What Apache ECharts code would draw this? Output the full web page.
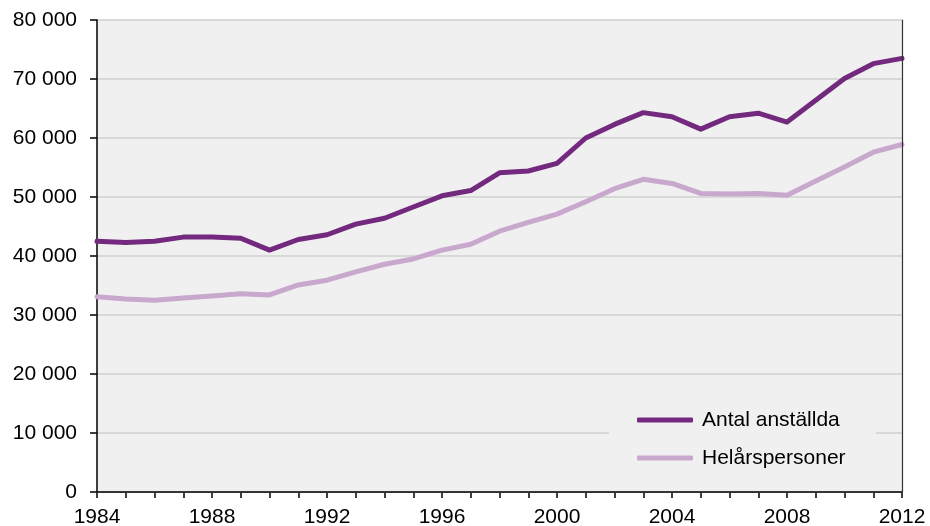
<!DOCTYPE html>
<html>
<head>
<meta charset="utf-8">
<script src="https://cdn.jsdelivr.net/npm/echarts@6/dist/echarts.min.js"></script>
<style>
  html, body { margin: 0; padding: 0; background: #fff; }
  #chart { width: 930px; height: 526px; }
</style>
</head>
<body>
<div id="chart"></div>
<script>
const years = [];
for (let y = 1984; y <= 2012; y++) years.push(String(y));

// Antal anställda
const antalAnstallda = [
  42500, 42300, 42500, 43200, 43200, 43000, 41000, 42800, 43600, 45400,
  46400, 48300, 50200, 51100, 54100, 54400, 55700, 60000, 62300, 64300,
  63600, 61500, 63600, 64200, 62700, 66400, 70100, 72600, 73500
];

// Helårspersoner
const helarspersoner = [
  33100, 32700, 32500, 32900, 33200, 33600, 33400, 35100, 35900, 37300,
  38600, 39500, 41000, 42000, 44200, 45700, 47100, 49200, 51400, 53000,
  52300, 50600, 50500, 50600, 50300, 52700, 55100, 57600, 58900
];

const fmt = v => String(v).replace(/\B(?=(\d{3})+(?!\d))/g, ' ');

const chart = echarts.init(document.getElementById('chart'));

const option = {
  backgroundColor: '#ffffff',
  animation: false,
  textStyle: { fontFamily: 'Liberation Sans, Arial, sans-serif' },
  grid: {
    left: 97, right: 28, top: 20, bottom: 34,
    outerBoundsMode: 'none',
    containLabel: false,
    show: true,
    backgroundColor: '#f0f0f0',
    borderWidth: 0
  },
  legend: {
    orient: 'vertical',
    left: 609,
    top: 399,
    padding: [10, 30, 10, 28],
    backgroundColor: '#f0f0f0',
    itemWidth: 56,
    itemHeight: 5,
    itemGap: 16,
    icon: 'roundRect',
    textStyle: { fontSize: 21, color: '#000', lineHeight: 22, padding: [0, 0, 0, 4] },
    data: ['Antal anställda', 'Helårspersoner']
  },
  xAxis: [
    {
      type: 'category',
      data: years,
      boundaryGap: false,
      axisLine: { lineStyle: { color: '#000', width: 1.5 } },
      axisTick: { show: true, interval: 0, length: 6, lineStyle: { color: '#000', width: 1.5 } },
      axisLabel: { interval: 3, fontSize: 21, color: '#000', margin: 15 },
      splitLine: { show: false }
    },
    {
      type: 'category',
      data: years,
      boundaryGap: false,
      position: 'top',
      z: 10,
      axisLine: { lineStyle: { color: '#333', width: 1.2 } },
      axisTick: { show: false },
      axisLabel: { show: false },
      splitLine: { show: false }
    }
  ],
  yAxis: [
    {
      type: 'value',
      min: 0,
      max: 80000,
      interval: 10000,
      axisLine: { show: true, lineStyle: { color: '#000', width: 1.5 } },
      axisTick: { show: true, length: 7, lineStyle: { color: '#000', width: 1.5 } },
      axisLabel: { fontSize: 21, color: '#000', margin: 20, formatter: fmt },
      splitLine: { lineStyle: { color: '#d0d0d0', width: 1.5 } }
    },
    {
      type: 'value',
      min: 0,
      max: 80000,
      interval: 10000,
      position: 'right',
      z: 10,
      axisLine: { show: true, lineStyle: { color: '#333', width: 1.2 } },
      axisTick: { show: false },
      axisLabel: { show: false },
      splitLine: { show: false }
    }
  ],
  series: [
    {
      name: 'Antal anställda',
      type: 'line',
      data: antalAnstallda,
      symbol: 'none',
      lineStyle: { color: '#732a7e', width: 5, cap: 'round', join: 'round' },
      itemStyle: { color: '#732a7e' },
      z: 3
    },
    {
      name: 'Helårspersoner',
      type: 'line',
      data: helarspersoner,
      symbol: 'none',
      lineStyle: { color: '#c8a8cc', width: 5, cap: 'round', join: 'round' },
      itemStyle: { color: '#c8a8cc' },
      z: 2
    }
  ]
};

chart.setOption(option);
</script>
</body>
</html>
